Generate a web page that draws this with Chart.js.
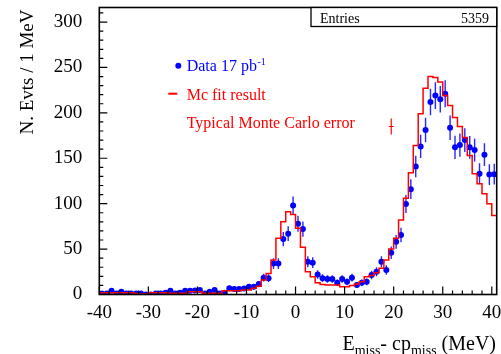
<!DOCTYPE html>
<html><head><meta charset="utf-8">
<script src="https://cdn.jsdelivr.net/npm/chart.js@4/dist/chart.umd.min.js"></script>
<style>html,body{margin:0;padding:0;background:#fff;} #wrap{width:501px;height:354px;position:relative;}</style>
</head><body><div id="wrap"><canvas id="c" width="501" height="354"></canvas></div>
<script>
// ---- axis ranges / ticks ----
const xMin = -40, xMax = 41, binWidth = 1;
const yMin = 0, yMax = 316;
const xMajorStep = 10, xMinorStep = 2;
const yMajorStep = 50, yMinorStep = 10;

// ---- data: counts per 1 MeV bin, bins from -40 to 41 ----
const dataCounts = [
  1, 1, 4, 1, 3, 1, 1, 1, 1, 0,
  0, 1, 1, 2, 4, 1, 2, 4, 4, 4.5,
  5, 1, 3, 5, 1, 2, 7, 6, 6, 6.5,
  8.5, 8.5, 11.5, 18.5, 18, 34, 34, 61, 67, 98,
  78, 72, 36, 35, 22, 18, 17, 17, 13, 17,
  14, 18.5, 10.5, 13, 14, 21.5, 25, 36, 27, 46,
  58, 65.5, 99.6, 116, 141, 163, 181, 212, 219, 215,
  221, 183.5, 162, 164.5, 170, 162, 159, 133, 154, 132,
  132.5
];
const dataErrors = [
  1, 1, 2, 1, 1.7, 1, 1, 1, 1, 0,
  0, 1, 1, 1.4, 2, 1, 1.4, 2, 2, 2.1,
  2.2, 1, 1.7, 2.2, 1, 1.4, 2.6, 2.4, 2.4, 2.5,
  2.9, 2.9, 3.4, 4.3, 4.2, 5.8, 5.8, 7.8, 8.2, 9.9,
  8.8, 8.5, 6, 5.9, 4.7, 4.2, 4.1, 4.1, 3.6, 4.1,
  3.7, 4.3, 3.2, 3.6, 3.7, 4.6, 5, 6, 5.2, 6.8,
  7.6, 8.1, 10, 10.8, 11.9, 12.8, 13.5, 14.6, 14.8, 14.7,
  14.9, 13.5, 12.7, 12.8, 13, 12.6, 12.6, 11.5, 12.4, 11.5,
  11.5
];
// ---- MC fit histogram (bin contents, bins from -40; last bin lies beyond the frame) ----
const mcFit = [
  1, 2, 2, 2, 2, 2, 2, 2, 1, 0.5,
  0.5, 2, 2, 2, 2, 1.5, 1.5, 1.5, 1.5, 3,
  3, 3, 1.5, 1.5, 1.5, 1.5, 4, 4, 4, 4,
  5, 5, 7, 9, 16, 23, 38, 62, 80, 91,
  88, 73, 52, 25, 19.5, 13, 11, 10.5, 10.5, 10.5,
  8.5, 8.5, 10, 11.5, 14, 19.5, 21, 24, 29, 38,
  50, 62, 82, 106, 134, 164, 199, 227, 240, 239,
  234, 219, 208, 195, 185, 173, 153, 133, 122, 111,
  100, 87
];
// ---- typical MC error marker (data coordinates) ----
const mcErrX = [19.5];
const mcErrY = [185];
const mcErrDy = [8.8];
const mcErrDx = [0.5];

const entriesLabel = "Entries";
const entriesValue = "5359";
const legendData = "Data 17 pb";
const legendDataSup = "-1";
const legendMc = "Mc fit result";
const legendMcErr = "Typical Monte Carlo error";
const yTitle = "N. Evts / 1 MeV";

const SERIF = "'Liberation Serif','DejaVu Serif',serif";
const BLUE = '#0000ff', RED = '#ff0000';

const mcPoints = mcFit.map((v, i) => ({x: xMin + i * binWidth, y: v}));
mcPoints.push({x: xMin + mcFit.length * binWidth, y: mcFit[mcFit.length - 1]});
const dataPoints = dataCounts.map((v, i) => ({x: xMin + (i + 0.5) * binWidth, y: v}));

function noPad(s) { s.paddingTop = 0; s.paddingBottom = 0; s.paddingLeft = 0; s.paddingRight = 0; }

const decor = {
  id: 'decor',
  beforeDatasetsDraw(chart) {
    const {ctx, chartArea: a, scales: {x, y}} = chart;
    ctx.save();
    ctx.beginPath(); ctx.rect(a.left, a.top, a.right - a.left, a.bottom - a.top); ctx.clip();
    // data error bars
    ctx.strokeStyle = 'rgba(0,0,255,0.85)'; ctx.lineWidth = 1.4;
    dataCounts.forEach((v, i) => {
      const e = dataErrors[i]; if (!e) return;
      const px = x.getPixelForValue(xMin + (i + 0.5) * binWidth);
      ctx.beginPath();
      ctx.moveTo(px, y.getPixelForValue(v - e));
      ctx.lineTo(px, y.getPixelForValue(v + e));
      ctx.stroke();
    });
    // typical MC error
    ctx.strokeStyle = RED; ctx.lineWidth = 1.2;
    mcErrX.forEach((mx, i) => {
      const px = x.getPixelForValue(mx), py = y.getPixelForValue(mcErrY[i]);
      ctx.beginPath();
      ctx.moveTo(px, y.getPixelForValue(mcErrY[i] - mcErrDy[i]));
      ctx.lineTo(px, y.getPixelForValue(mcErrY[i] + mcErrDy[i]));
      ctx.moveTo(x.getPixelForValue(mx - mcErrDx[i]), py);
      ctx.lineTo(x.getPixelForValue(mx + mcErrDx[i]), py);
      ctx.stroke();
    });
    ctx.restore();
  },
  afterDraw(chart) {
    const {ctx, chartArea: a, scales: {x, y}} = chart;
    ctx.save();
    // frame
    ctx.strokeStyle = '#000'; ctx.lineWidth = 1.6;
    ctx.strokeRect(a.left, a.top, a.right - a.left, a.bottom - a.top);
    // ticks
    ctx.lineWidth = 1.2;
    ctx.beginPath();
    for (let v = -40; v <= 40; v += xMinorStep) {
      const px = x.getPixelForValue(v);
      const len = (v % xMajorStep === 0) ? 8 : 4;
      ctx.moveTo(px, a.bottom); ctx.lineTo(px, a.bottom - len);
    }
    for (let v = 0; v <= 310; v += yMinorStep) {
      const py = y.getPixelForValue(v);
      const len = (v % yMajorStep === 0) ? 8 : 4;
      ctx.moveTo(a.left, py); ctx.lineTo(a.left + len, py);
    }
    ctx.stroke();

    // entries box
    ctx.lineWidth = 1.3;
    ctx.fillStyle = '#fff';
    ctx.fillRect(311, a.top, a.right - 311, 19);
    ctx.strokeRect(311, a.top, a.right - 311, 19);
    ctx.fillStyle = '#000';
    ctx.font = '14px ' + SERIF;
    ctx.textBaseline = 'alphabetic';
    ctx.textAlign = 'left'; ctx.fillText(entriesLabel, 320, 22.5);
    ctx.textAlign = 'right'; ctx.fillText(entriesValue, 489, 22.5);

    // legend
    ctx.textAlign = 'left';
    ctx.fillStyle = BLUE;
    ctx.beginPath(); ctx.arc(178.3, 65.7, 3, 0, Math.PI * 2); ctx.fill();
    ctx.font = '16px ' + SERIF;
    ctx.fillText(legendData, 186.7, 70.7);
    const w1 = ctx.measureText(legendData).width;
    ctx.font = '10px ' + SERIF;
    ctx.fillText(legendDataSup, 186.7 + w1 + 0.5, 64.5);
    ctx.fillStyle = RED; ctx.strokeStyle = RED; ctx.lineWidth = 2;
    ctx.beginPath(); ctx.moveTo(168.3, 93.7); ctx.lineTo(177.3, 93.7); ctx.stroke();
    ctx.font = '16px ' + SERIF;
    ctx.fillText(legendMc, 186.7, 99.7);
    ctx.fillText(legendMcErr, 186.7, 127.5);

    // y title
    ctx.fillStyle = '#000';
    ctx.save();
    ctx.translate(32.5, 9.5); ctx.rotate(-Math.PI / 2);
    ctx.font = '19px ' + SERIF; ctx.textAlign = 'right'; ctx.textBaseline = 'alphabetic';
    ctx.fillText(yTitle, 0, 0);
    ctx.restore();

    // x title: E_miss- cp_miss (MeV)
    const parts = [
      ['E', 20, 0], ['miss', 14, 5], ['- cp', 20, 0], ['miss', 14, 5], [' (MeV)', 20, 0]
    ];
    let tw = 0;
    parts.forEach(p => { ctx.font = p[1] + 'px ' + SERIF; tw += ctx.measureText(p[0]).width; });
    let cx = 496 - tw;
    ctx.textAlign = 'left';
    parts.forEach(p => {
      ctx.font = p[1] + 'px ' + SERIF;
      ctx.fillText(p[0], cx, 350 + p[2]);
      cx += ctx.measureText(p[0]).width;
    });
    ctx.restore();
  }
};

new Chart(document.getElementById('c'), {
  type: 'scatter',
  data: {
    datasets: [
      {type: 'line', label: 'Mc fit result', data: mcPoints, stepped: 'after',
       borderColor: RED, borderWidth: 1.5, pointRadius: 0, fill: false, tension: 0},
      {type: 'scatter', label: 'Data', data: dataPoints, pointRadius: 3,
       pointBackgroundColor: BLUE, pointBorderWidth: 0, pointBorderColor: BLUE}
    ]
  },
  options: {
    responsive: false, animation: false, devicePixelRatio: 1,
    layout: {padding: {left: 0, right: 4.3, top: 7.5, bottom: 0}},
    plugins: {legend: {display: false}, tooltip: {enabled: false}},
    scales: {
      x: {type: 'linear', min: xMin, max: xMax,
          ticks: {stepSize: xMajorStep, includeBounds: false, autoSkip: false, maxRotation: 0,
                  font: {family: SERIF, size: 19}, color: '#000', padding: 7},
          grid: {display: false, drawTicks: false}, border: {display: false},
          afterFit(s) { s.height = 59.5; noPad(s); }},
      y: {type: 'linear', min: yMin, max: yMax,
          ticks: {stepSize: yMajorStep, includeBounds: false,
                  font: {family: SERIF, size: 19}, color: '#000', padding: 17},
          grid: {display: false, drawTicks: false}, border: {display: false},
          afterFit(s) { s.width = 99.3; noPad(s); }}
    }
  },
  plugins: [decor]
});
</script></body></html>
